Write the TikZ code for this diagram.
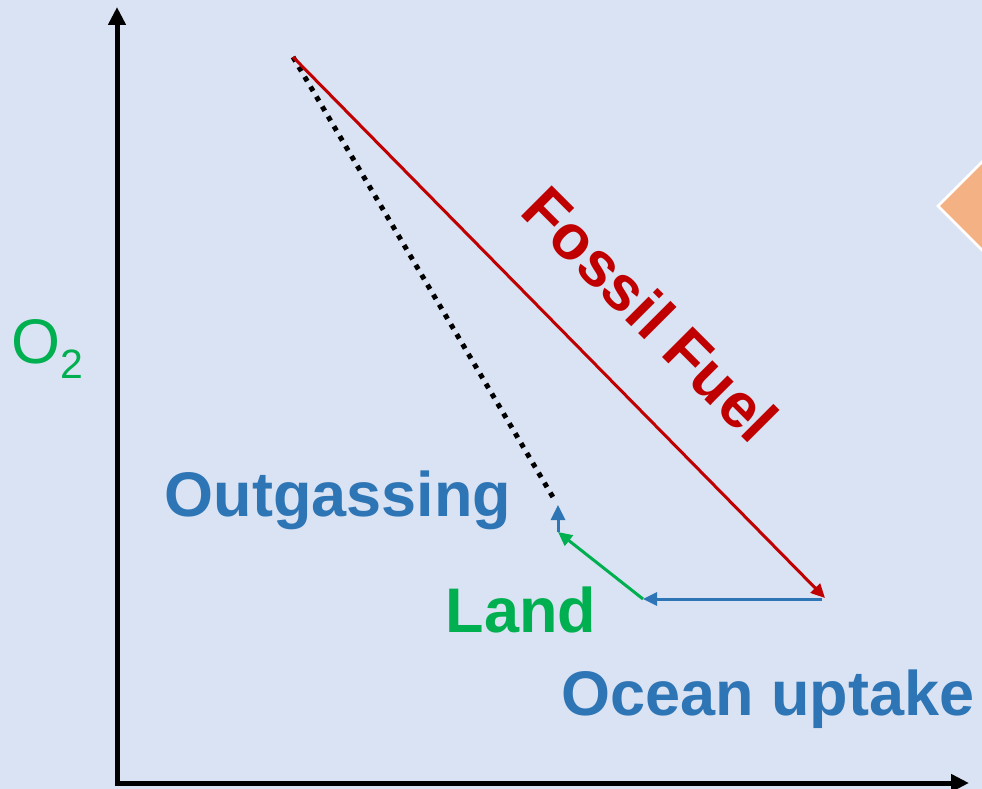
\documentclass[tikz,border=0pt]{standalone}
\usepackage{fontspec}
\setmainfont{Liberation Sans}
\usepackage{tikz}
\usetikzlibrary{arrows.meta}
\definecolor{bgblue}{HTML}{DAE3F3}
\definecolor{ffred}{HTML}{C00000}
\definecolor{seablue}{HTML}{2E75B6}
\definecolor{landgreen}{HTML}{00B050}
\definecolor{peach}{HTML}{F4B183}

\begin{document}
\begin{tikzpicture}[x=1pt, y=-1pt,
      axes/.style={{Triangle[length=18pt,width=17pt]}-{Triangle[length=18pt,width=17pt]}, line width=5pt, black},
      flux/.style={-{Triangle[length=14pt,width=13pt]}, line width=3pt},
      dotline/.style={line width=5pt, dash pattern=on 5pt off 6.5pt, black},
      lbl/.style={anchor=base, inner sep=0pt, font=\fontsize{63}{70}\selectfont\bfseries}
    ]
      % Frame & background
      \useasboundingbox (0,0) rectangle (982,789);
      \clip (0,0) rectangle (982,789);
      \fill[bgblue] (0,0) rectangle (982,789);

      % Corner of the next shape
      \draw[fill=peach, draw=white, line width=2.5pt] (938,206) -- (990,154) -- (1042,206) -- (990,258) -- cycle;

      % Axes
      \coordinate (ytop) at (117,7);
      \coordinate (origin) at (117,783);
      \coordinate (xend) at (969,783);
      \draw[axes] (ytop) -- (origin) -- (xend);

      % Path points
      \coordinate (start) at (293,57);
      \coordinate (ffend) at (825,598);
      \coordinate (ocean) at (822,599);
      \coordinate (land) at (643,599);
      \coordinate (outg) at (558,532);
      \coordinate (outtop) at (558,505);
      \coordinate (dotend) at (554,499);

      % Budget arrows
      \draw[dotline] (start) -- (dotend);
      \draw[flux, ffred] (start) -- (ffend);
      \draw[flux, seablue] (ocean) -- (land);
      \draw[flux, landgreen] (land) -- (outg);
      \draw[flux, seablue, -{Triangle[length=15pt,width=14pt]}] (outg) -- (outtop);

      % Labels
      \node[anchor=base west, inner sep=0pt, landgreen, font=\fontsize{63}{70}\selectfont] (otwo) at (11,363) {O\raisebox{-0.25em}{\fontsize{41}{41}\selectfont 2}};
      \node[lbl, ffred, rotate=-45] (fossil) at (635,330) {Fossil Fuel};
      \node[lbl, seablue] (outgassing) at (338,516) {Outgassing};
      \node[lbl, landgreen] (landlbl) at (521,632) {Land};
      \node[lbl, seablue] (oceanlbl) at (768,715) {Ocean uptake};
    \end{tikzpicture}
\end{document}
